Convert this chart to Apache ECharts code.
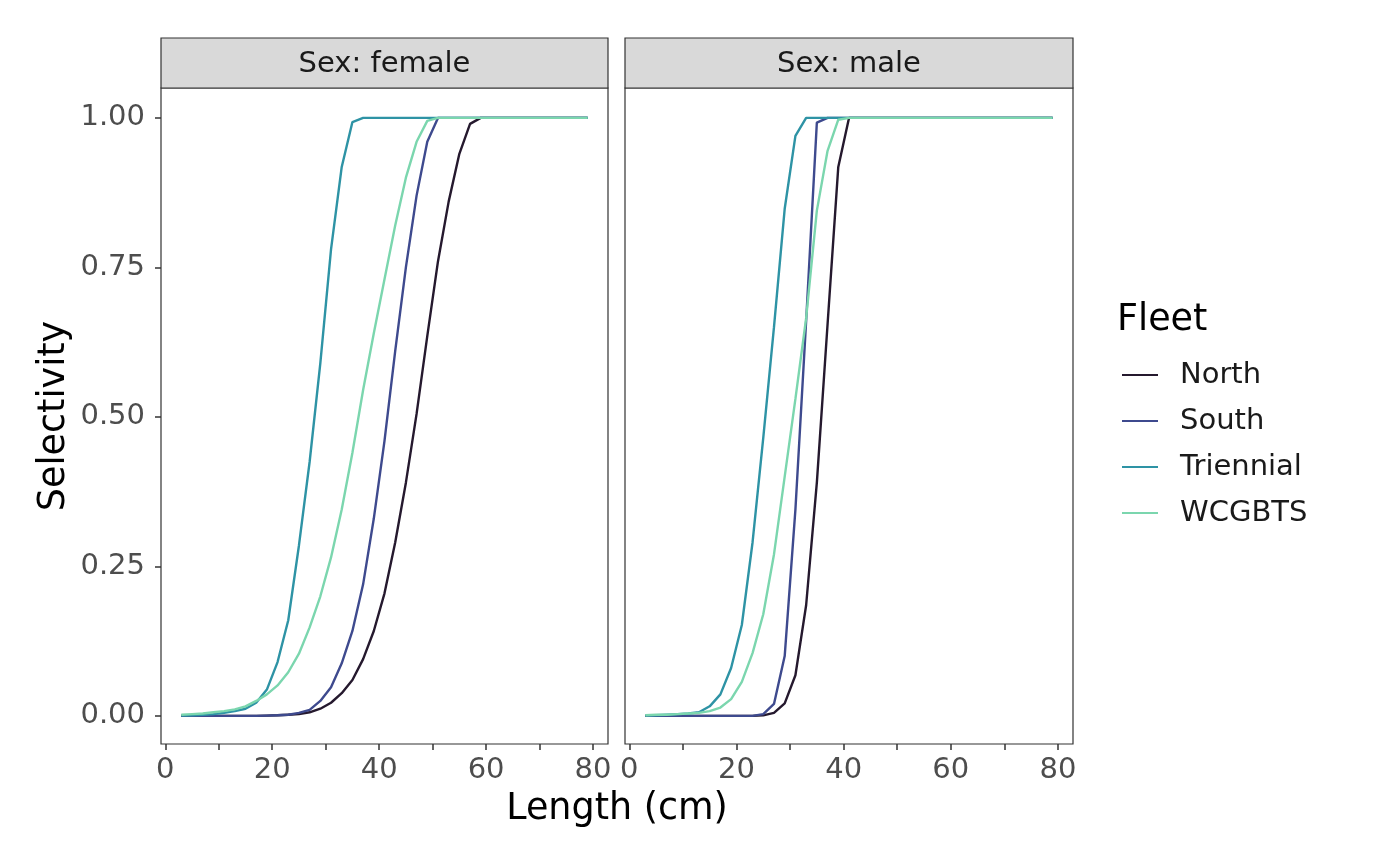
<!DOCTYPE html>
<html>
<head>
    <meta charset="utf-8">
    <title>Selectivity by fleet</title>
    <script src="https://cdn.jsdelivr.net/npm/echarts@6/dist/echarts.min.js"></script>
    <style>
        html, body { margin: 0; padding: 0; background: #fff; }
        #main { width: 1400px; height: 866px; }
    </style>
</head>
<body>
<div id="main"></div>
<script type="text/javascript">
    // length bins (cm)
    var lengths = [3, 5, 7, 9, 11, 13, 15, 17, 19, 21, 23, 25, 27, 29, 31, 33, 35, 37, 39, 41,
        43, 45, 47, 49, 51, 53, 55, 57, 59, 61, 63, 65, 67, 69, 71, 73, 75, 77, 79];

    var fleets = ['North', 'South', 'Triennial', 'WCGBTS'];
    var colors = ['#25192E', '#3E4A8E', '#2E93A5', '#7BD6AE'];

    // female
    var femNorth = [0, 0, 0, 0, 0, 0, 0, 0, 0.0005, 0.001, 0.002, 0.003, 0.006, 0.012, 0.022, 0.038, 0.06, 0.095, 0.142, 0.205,
        0.29, 0.39, 0.505, 0.635, 0.76, 0.86, 0.94, 0.99, 1, 1, 1, 1, 1, 1, 1, 1, 1, 1, 1];
    var femSouth = [0, 0, 0, 0, 0, 0, 0, 0, 0.0005, 0.001, 0.002, 0.005, 0.01, 0.025, 0.048, 0.088, 0.142, 0.22, 0.33, 0.46,
        0.61, 0.75, 0.87, 0.96, 1, 1, 1, 1, 1, 1, 1, 1, 1, 1, 1, 1, 1, 1, 1];
    var femTri = [0.0005, 0.001, 0.002, 0.003, 0.005, 0.008, 0.012, 0.022, 0.044, 0.09, 0.16, 0.285, 0.425, 0.59, 0.78, 0.918, 0.993, 1, 1, 1,
        1, 1, 1, 1, 1, 1, 1, 1, 1, 1, 1, 1, 1, 1, 1, 1, 1, 1, 1];
    var femWcg = [0.002, 0.003, 0.004, 0.006, 0.008, 0.011, 0.016, 0.025, 0.036, 0.051, 0.073, 0.104, 0.148, 0.2, 0.265, 0.345, 0.44, 0.545, 0.64, 0.73,
        0.82, 0.9, 0.96, 0.995, 1, 1, 1, 1, 1, 1, 1, 1, 1, 1, 1, 1, 1, 1, 1];

    // male
    var maleNorth = [0, 0, 0, 0, 0, 0, 0, 0, 0, 0, 0, 0.001, 0.005, 0.021, 0.068, 0.185, 0.39, 0.655, 0.918, 1,
        1, 1, 1, 1, 1, 1, 1, 1, 1, 1, 1, 1, 1, 1, 1, 1, 1, 1, 1];
    var maleSouth = [0, 0, 0, 0, 0, 0, 0, 0, 0, 0, 0, 0.003, 0.02, 0.1, 0.345, 0.66, 0.992, 1, 1, 1,
        1, 1, 1, 1, 1, 1, 1, 1, 1, 1, 1, 1, 1, 1, 1, 1, 1, 1, 1];
    var maleTri = [0.0005, 0.001, 0.002, 0.003, 0.004, 0.006, 0.016, 0.036, 0.08, 0.152, 0.29, 0.465, 0.65, 0.848, 0.97, 1, 1, 1, 1, 1,
        1, 1, 1, 1, 1, 1, 1, 1, 1, 1, 1, 1, 1, 1, 1, 1, 1, 1, 1];
    var maleWcg = [0.001, 0.002, 0.002, 0.003, 0.004, 0.005, 0.008, 0.014, 0.028, 0.057, 0.105, 0.17, 0.27, 0.4, 0.53, 0.665, 0.845, 0.945, 0.997, 1,
        1, 1, 1, 1, 1, 1, 1, 1, 1, 1, 1, 1, 1, 1, 1, 1, 1, 1, 1];

    var xTicks = [0, 10, 20, 30, 40, 50, 60, 70, 80];
    var xLabels = [0, 20, 40, 60, 80];
    var yLabels = [0, 0.25, 0.5, 0.75, 1];

    var panels = ['Sex: female', 'Sex: male'];
    var panelData = [
        [femNorth, femSouth, femTri, femWcg],
        [maleNorth, maleSouth, maleTri, maleWcg]
    ];

    var FONT = 'DejaVu Sans';
    var SMALL = 29, BIG = 36.5;
    var grids = [
        {left: 161, top: 88, width: 447, height: 656},
        {left: 625, top: 88, width: 448, height: 656}
    ];

    function pairs(ys) {
        var out = [];
        for (var i = 0; i < lengths.length; i++) {
            out.push([lengths[i], ys[i]]);
        }
        return out;
    }

    var series = [];
    for (var p = 0; p < 2; p++) {
        for (var f = 0; f < fleets.length; f++) {
            series.push({
                name: fleets[f],
                type: 'line',
                xAxisIndex: p,
                yAxisIndex: p,
                showSymbol: false,
                symbol: 'none',
                data: pairs(panelData[p][f]),
                lineStyle: {color: colors[f], width: 2.4},
                itemStyle: {color: colors[f]},
                z: 2 + f
            });
        }
    }

    var graphics = [];
    for (var p = 0; p < 2; p++) {
        var g = grids[p];
        graphics.push({
            type: 'rect',
            shape: {x: g.left, y: 38, width: g.width, height: 50},
            style: {fill: '#D9D9D9', stroke: '#333333', lineWidth: 1.2}
        });
        graphics.push({
            type: 'text',
            x: g.left + g.width / 2,
            y: 64,
            style: {text: panels[p], font: SMALL + 'px "' + FONT + '"', fill: '#1A1A1A', align: 'center', verticalAlign: 'middle'}
        });
    }
    // axis titles
    graphics.push({
        type: 'text', x: 617, y: 810,
        style: {text: 'Length (cm)', font: BIG + 'px "' + FONT + '"', fill: '#000', align: 'center', verticalAlign: 'middle'}
    });
    graphics.push({
        type: 'text', x: 55, y: 416, rotation: Math.PI / 2,
        style: {text: 'Selectivity', font: BIG + 'px "' + FONT + '"', fill: '#000', align: 'center', verticalAlign: 'middle'}
    });
    graphics.push({
        type: 'text', x: 1117, y: 321,
        style: {text: 'Fleet', font: BIG + 'px "' + FONT + '"', fill: '#000', align: 'left', verticalAlign: 'middle'}
    });

    var xAxes = [], yAxes = [];
    for (var p = 0; p < 2; p++) {
        xAxes.push({
            type: 'value', gridIndex: p, min: -0.8, max: 82.8,
            splitLine: {show: false},
            axisLine: {show: false, onZero: false},
            axisTick: {show: true, length: 6, customValues: xTicks, lineStyle: {color: '#333333', width: 1.5}},
            axisLabel: {customValues: xLabels, fontFamily: FONT, fontSize: SMALL, color: '#4D4D4D', margin: 12}
        });
        yAxes.push({
            type: 'value', gridIndex: p, min: -0.047, max: 1.05,
            splitLine: {show: false},
            axisLine: {show: false, onZero: false},
            axisTick: {show: p === 0, length: 6, customValues: yLabels, lineStyle: {color: '#333333', width: 1.5}},
            axisLabel: {
                show: p === 0, customValues: yLabels, fontFamily: FONT, fontSize: SMALL, color: '#4D4D4D', margin: 16,
                formatter: function (v) { return v.toFixed(2); }
            }
        });
    }

    var chart = echarts.init(document.getElementById('main'), null, {renderer: 'canvas'});
    chart.setOption({
        backgroundColor: '#ffffff',
        animation: false,
        grid: grids.map(function (g) {
            return {left: g.left, top: g.top, width: g.width, height: g.height, show: true,
                borderColor: '#333333', borderWidth: 1.2, backgroundColor: 'transparent'};
        }),
        xAxis: xAxes,
        yAxis: yAxes,
        legend: {
            data: fleets,
            orient: 'vertical',
            left: 1122,
            top: 360,
            padding: 0,
            itemWidth: 36,
            itemHeight: 2,
            itemGap: 16,
            icon: 'rect',
            textStyle: {fontFamily: FONT, fontSize: SMALL, color: '#1A1A1A', lineHeight: 30, padding: [0, 0, 0, 17]}
        },
        graphic: graphics,
        series: series
    });
</script>
</body>
</html>
